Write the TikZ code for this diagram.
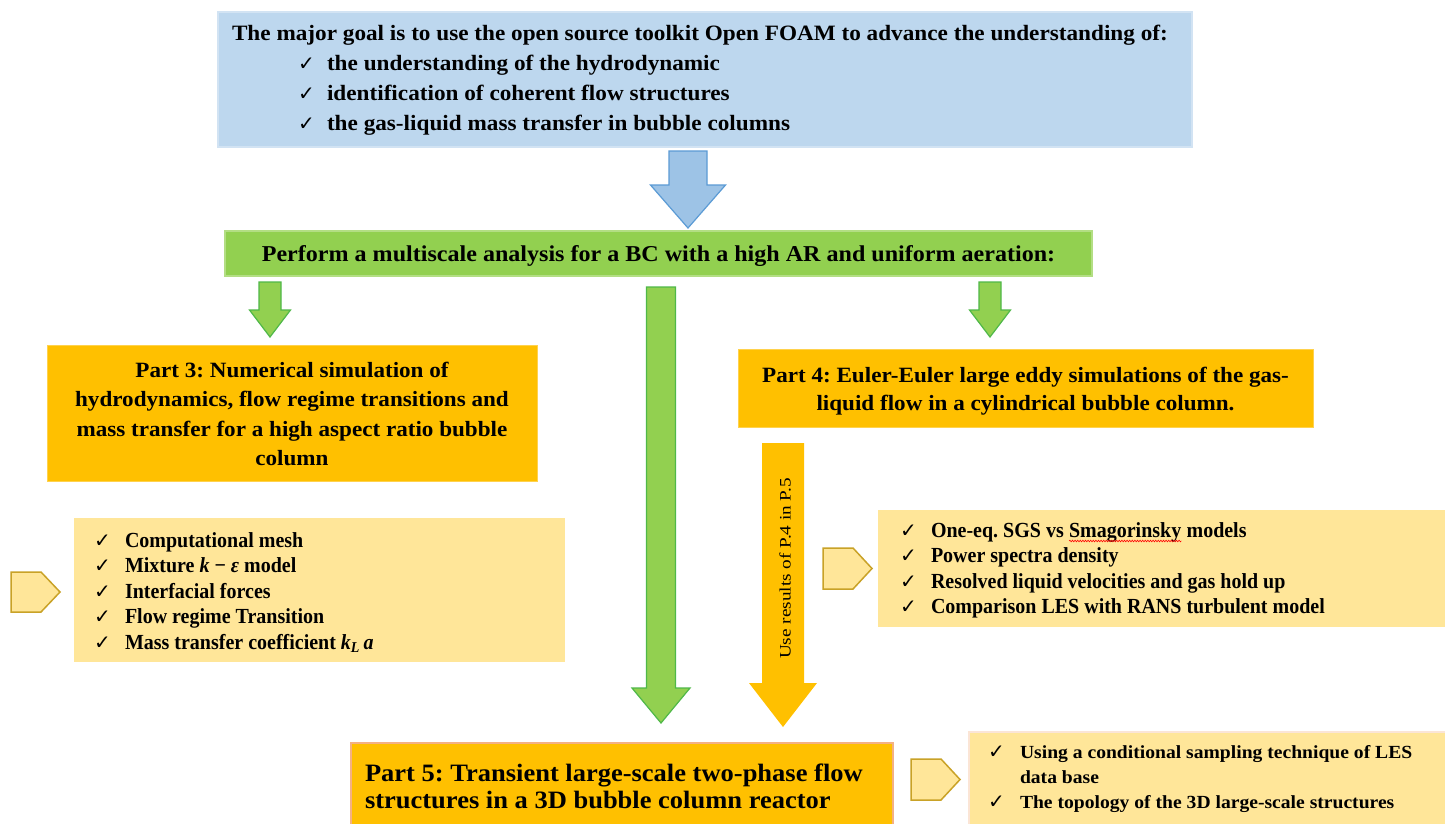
\documentclass[tikz,border=0pt]{standalone}
\usepackage{fontspec}
\setmainfont{Liberation Serif}[FakeStretch=1.06]
\newfontfamily\symfont{DejaVu Sans}
\newfontfamily\listfont{Liberation Serif}[FakeStretch=0.93]
\newfontfamily\rotfont{Liberation Serif}[FakeStretch=1.2]
\usetikzlibrary{calc,decorations.pathmorphing}
\definecolor{goalblue}{HTML}{BDD7EE}
\definecolor{goaledge}{HTML}{D2E3F3}
\definecolor{arrblue}{HTML}{9DC3E6}
\definecolor{arrblueedge}{HTML}{5B9BD5}
\definecolor{greenbar}{HTML}{92D050}
\definecolor{greenedge}{HTML}{4FB848}
\definecolor{orangebox}{HTML}{FFC000}
\definecolor{orangeedge}{HTML}{FFD24D}
\definecolor{lightyel}{HTML}{FFE699}
\definecolor{pentedge}{HTML}{C9A227}
\definecolor{peach}{HTML}{F4B183}
\definecolor{pinkedge}{HTML}{FBE5D6}
\tikzset{
  goalbox/.style={fill=goalblue, draw=goaledge, line width=1.5pt, inner sep=0pt},
  barbox/.style={fill=greenbar, draw=greenbar!70!white, line width=1.2pt, inner sep=0pt},
  partbox/.style={fill=orangebox, draw=orangeedge, line width=1pt, inner sep=0pt},
  part5box/.style={fill=orangebox, draw=peach, line width=2.5pt, inner sep=0pt},
  listbox/.style={fill=lightyel, draw=none, inner sep=0pt},
  list5box/.style={fill=lightyel, draw=pinkedge, line width=2.5pt, inner sep=0pt},
  pent/.style={fill=lightyel, draw=pentedge, line width=1.5pt, line join=miter},
  bluearrow/.style={fill=arrblue, draw=arrblueedge, line width=1.2pt, line join=miter},
  greenarrow/.style={fill=greenbar, draw=greenedge, line width=1.2pt, line join=miter},
  orangearrow/.style={fill=orangebox, draw=none},
  txt/.style={inner sep=0pt, outer sep=0pt, font=\bfseries\fontsize{21.8}{29.5}\selectfont},
  bartxt/.style={inner sep=0pt, outer sep=0pt, font=\bfseries\fontsize{22.7}{29.5}\selectfont},
  goaltxt/.style={inner sep=0pt, outer sep=0pt, font=\bfseries\fontsize{21.9}{30}\selectfont},
  listtxt/.style={inner sep=0pt, outer sep=0pt, font=\listfont\bfseries\fontsize{21.5}{25}\selectfont},
  list5txt/.style={inner sep=0pt, outer sep=0pt, font=\bfseries\fontsize{18.5}{25}\selectfont},
  p5txt/.style={inner sep=0pt, outer sep=0pt, font=\bfseries\fontsize{25}{27}\selectfont},
}
\newcommand\ck{{\symfont\bfseries\fontsize{20}{20}\selectfont ✓}}
% check + text line: name, xcheck, xtext, baseline, style, text
\newcommand\chk[6]{%
  \node[#5, anchor=base west] (#1c) at (#2,#4) {\ck};
  \node[#5, anchor=base west] (#1) at (#3,#4) {#6};}
\newcommand\barrow[6]{%
  \draw[#1] ($(#2)+(-#4,0)$) -- ($(#3)+(-#4,-#6)$) -- ($(#3)+(-#5,-#6)$) -- (#3)
    -- ($(#3)+(#5,-#6)$) -- ($(#3)+(#4,-#6)$) -- ($(#2)+(#4,0)$) -- cycle;}
\newcommand\redsq[1]{\tikz[baseline=(w.base)]{\node[inner sep=0pt,outer sep=0pt,anchor=base](w){#1};
  \draw[red, line width=0.6pt, decorate, decoration={snake, amplitude=0.8pt, segment length=2.6pt}]
    ([yshift=-4pt]w.base west) -- ([yshift=-4pt]w.base east);}}
\frenchspacing
\begin{document}
\begin{tikzpicture}[x=1pt, y=-1pt]
\useasboundingbox (0,0) rectangle (1445,823);
\clip (0,0) rectangle (1445,823);
\fill[white] (0,0) rectangle (1445,823);

% ---- boxes ----
\node[goalbox, minimum width=974pt, minimum height=135pt] (goal) at (705,79.5) {};
\node[barbox, minimum width=867pt, minimum height=45pt] (bar) at (658.5,253.5) {};
\node[partbox, minimum width=490pt, minimum height=136pt] (p3) at (292,413) {};
\node[listbox, minimum width=491pt, minimum height=144pt] (p3list) at (319.5,590) {};
\node[partbox, minimum width=575pt, minimum height=78pt] (p4) at (1025.5,388) {};
\node[listbox, minimum width=572pt, minimum height=117pt] (p4list) at (1164,568.5) {};
\node[part5box, minimum width=542pt, minimum height=87pt] (p5) at (622,786.5) {};
\node[list5box, minimum width=481pt, minimum height=98pt] (p5list) at (1209.5,781) {};

% ---- goal text ----
\node[goaltxt, anchor=base west] (g0) at (232,40) {The major goal is to use the open source toolkit Open FOAM to advance the understanding of:};
\chk{g1}{298}{327}{70}{goaltxt}{the understanding of the hydrodynamic}
\chk{g2}{298}{327}{100}{goaltxt}{identification of coherent flow structures}
\chk{g3}{298}{327}{130}{goaltxt}{the gas-liquid mass transfer in bubble columns}

% ---- green bar text ----
\node[bartxt, anchor=base] (bart) at (658.5,261) {Perform a multiscale analysis for a BC with a high AR and uniform aeration:};

% ---- part 3 ----
\node[txt, anchor=base] (p3a) at (292,377) {Part 3: Numerical simulation of};
\node[txt, anchor=base] (p3b) at (292,406.5) {hydrodynamics, flow regime transitions and};
\node[txt, anchor=base] (p3c) at (292,436) {mass transfer for a high aspect ratio bubble};
\node[txt, anchor=base] (p3d) at (292,465.5) {column};

\chk{l31}{94}{125}{547}{listtxt}{Computational mesh}
\chk{l32}{94}{125}{572.5}{listtxt}{Mixture \textit{k} − \textit{ε} model}
\chk{l33}{94}{125}{598}{listtxt}{Interfacial forces}
\chk{l34}{94}{125}{623.5}{listtxt}{Flow regime Transition}
\chk{l35}{94}{125}{649}{listtxt}{Mass transfer coefficient \textit{k}\textsubscript{\textit{L}}\,\textit{a}}

% ---- part 4 ----
\node[txt, anchor=base] (p4a) at (1025.5,382) {Part 4: Euler-Euler large eddy simulations of the gas-};
\node[txt, anchor=base] (p4b) at (1025.5,410) {liquid flow in a cylindrical bubble column.};

\chk{l41}{900}{931}{537}{listtxt}{One-eq. SGS vs \redsq{Smagorinsky} models}
\chk{l42}{900}{931}{562}{listtxt}{Power spectra density}
\chk{l43}{900}{931}{588}{listtxt}{Resolved liquid velocities and gas hold up}
\chk{l44}{900}{931}{613}{listtxt}{Comparison LES with RANS turbulent model}

% ---- part 5 ----
\node[p5txt, anchor=base west] (p5a) at (365,781) {Part 5: Transient large-scale two-phase flow};
\node[p5txt, anchor=base west] (p5b) at (365,808) {structures in a 3D bubble column reactor};

\chk{l51}{988}{1020}{758}{list5txt}{Using a conditional sampling technique of LES}
\node[list5txt, anchor=base west] (l51b) at (1020,783) {data base};
\chk{l52}{988}{1020}{808}{list5txt}{The topology of the 3D large-scale structures}

% ---- pentagons ----
\path[pent] (11,572) -- (41,572) -- (60,592) -- (41,612) -- (11,612) -- cycle;
\path[pent] (823,548) -- (853,548) -- (872,568.5) -- (853,589) -- (823,589) -- cycle;
\path[pent] (911,759) -- (941,759) -- (960,779.5) -- (941,800) -- (911,800) -- cycle;

% ---- block arrows ----
\coordinate (a1t) at (688,151);  \coordinate (a1h) at (688,228);
\coordinate (a2t) at (270,282);  \coordinate (a2h) at (270,337);
\coordinate (a3t) at (990,282);  \coordinate (a3h) at (990,337);
\coordinate (a4t) at (661,287);  \coordinate (a4h) at (661,723);
\coordinate (a5t) at (783,443);  \coordinate (a5h) at (783,727);
\barrow{bluearrow}{a1t}{a1h}{19}{37.5}{43}
\barrow{greenarrow}{a2t}{a2h}{11}{20.5}{27}
\barrow{greenarrow}{a3t}{a3h}{11}{20.5}{27}
\barrow{greenarrow}{a4t}{a4h}{14.5}{29}{35}
\barrow{orangearrow}{a5t}{a5h}{21}{34}{44}
\node[inner sep=0pt, rotate=90, font=\rotfont\fontsize{16}{16}\selectfont] (a5txt) at (785,568.5) {Use results of P.4 in P.5};
\end{tikzpicture}
\end{document}
